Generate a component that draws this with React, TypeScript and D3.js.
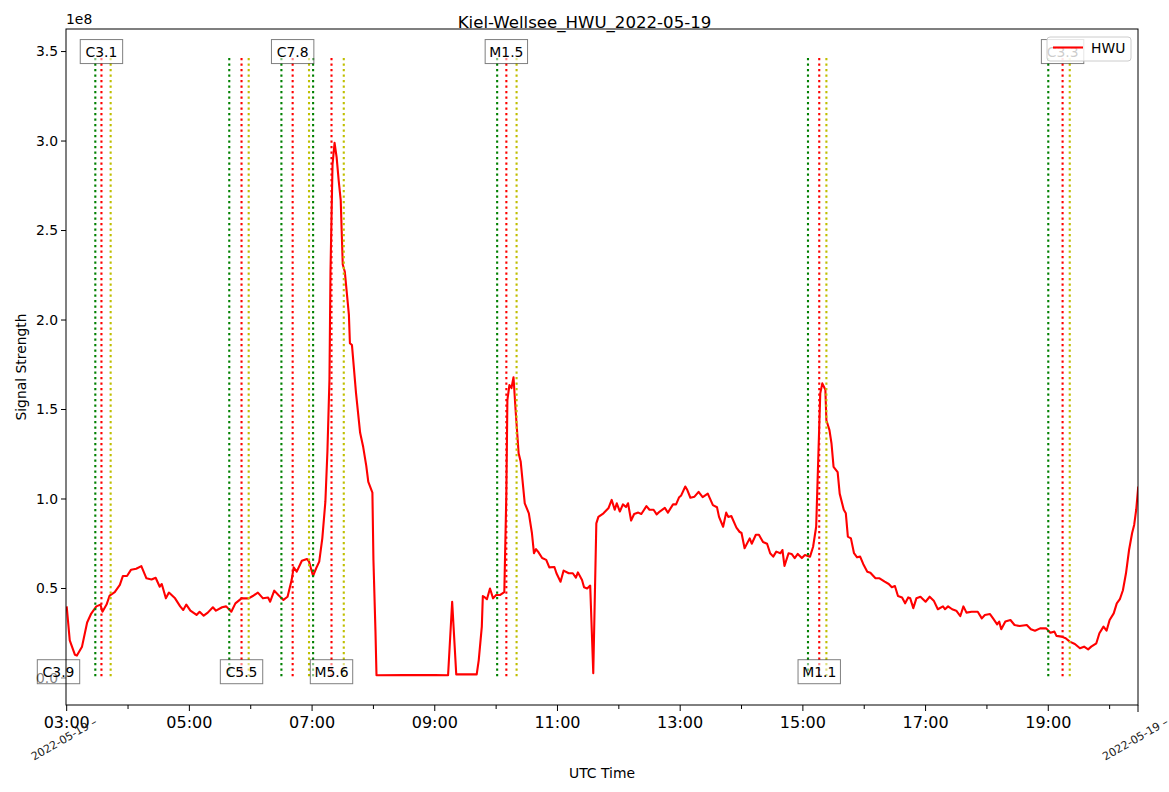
import React from 'react'
import * as d3 from 'd3'

// HWU signal (units of 1e8), sampled off the plot
const times = [
    '03:00', '03:03', '03:08', '03:10', '03:15', '03:20', '03:24', '03:29', '03:33', '03:35', '03:39', '03:42', '03:47', '03:52', '03:55', '03:59',
    '04:03', '04:08', '04:13', '04:18', '04:23', '04:27', '04:31', '04:33', '04:37', '04:40', '04:46', '04:51', '04:54', '04:57',
    '05:01', '05:07', '05:10', '05:14', '05:18', '05:23', '05:26', '05:32', '05:36', '05:41', '05:45', '05:51', '05:58',
    '06:02', '06:07', '06:12', '06:17', '06:19', '06:23', '06:27', '06:32', '06:36', '06:40', '06:42', '06:45', '06:50', '06:55', '06:57',
    '07:01', '07:04', '07:07', '07:10', '07:13', '07:15', '07:17', '07:18', '07:20', '07:22', '07:24', '07:26', '07:28', '07:30', '07:32', '07:36', '07:37', '07:39', '07:43', '07:47', '07:50', '07:53', '07:55', '07:59',
    '08:00', '08:02', '08:03', '08:30', '09:00', '09:13', '09:17', '09:21', '09:41', '09:43', '09:46', '09:47', '09:49', '09:51', '09:54', '09:57',
    '10:00', '10:04', '10:08', '10:10', '10:11', '10:13', '10:15', '10:17', '10:19', '10:22', '10:24', '10:28', '10:32', '10:35', '10:37', '10:39', '10:41', '10:45', '10:49', '10:52', '10:57', '10:59',
    '11:03', '11:06', '11:11', '11:15', '11:18', '11:20', '11:24', '11:26', '11:29', '11:32', '11:35', '11:38', '11:40', '11:45', '11:50', '11:53', '11:56', '11:58',
    '12:01', '12:04', '12:07', '12:09', '12:12', '12:15', '12:19', '12:22', '12:27', '12:30', '12:34', '12:37', '12:40', '12:45', '12:48', '12:53', '12:56', '12:59',
    '13:01', '13:05', '13:07', '13:10', '13:14', '13:18', '13:22', '13:27', '13:32', '13:36', '13:38', '13:42', '13:45', '13:47', '13:50', '13:55', '13:58',
    '14:00', '14:03', '14:08', '14:10', '14:14', '14:17', '14:21', '14:25', '14:28', '14:31', '14:34', '14:38', '14:40', '14:42', '14:46', '14:49', '14:52', '14:55', '14:59',
    '15:02', '15:07', '15:10', '15:13', '15:15', '15:17', '15:19', '15:22', '15:23', '15:26', '15:28', '15:30', '15:34', '15:36', '15:40', '15:42', '15:44', '15:47', '15:50', '15:53', '15:56', '15:59',
    '16:03', '16:06', '16:11', '16:15', '16:20', '16:24', '16:27', '16:30', '16:33', '16:37', '16:40', '16:43', '16:45', '16:48', '16:51', '16:55',
    '17:00', '17:04', '17:08', '17:12', '17:17', '17:19', '17:22', '17:26', '17:30', '17:34', '17:37', '17:40', '17:45', '17:51', '17:55', '17:58',
    '18:03', '18:06', '18:10', '18:12', '18:14', '18:18', '18:23', '18:27', '18:32', '18:39', '18:43', '18:47', '18:52', '18:58',
    '19:02', '19:06', '19:08', '19:13', '19:17', '19:21', '19:26', '19:31', '19:35', '19:39', '19:42', '19:47', '19:50', '19:54', '19:57',
    '20:00', '20:04', '20:07', '20:10', '20:13', '20:16', '20:19', '20:22', '20:24', '20:26', '20:28',
]
const signal = [
    0.40, 0.21, 0.13, 0.125, 0.175, 0.31, 0.36, 0.40, 0.41, 0.37, 0.41, 0.46, 0.48, 0.52, 0.57, 0.57,
    0.605, 0.61, 0.625, 0.557, 0.55, 0.56, 0.51, 0.525, 0.445, 0.477, 0.445, 0.40, 0.38, 0.41,
    0.376, 0.352, 0.37, 0.348, 0.365, 0.395, 0.376, 0.395, 0.40, 0.37, 0.417, 0.445, 0.445,
    0.458, 0.477, 0.445, 0.45, 0.426, 0.488, 0.464, 0.436, 0.454, 0.547, 0.618, 0.594, 0.655, 0.665, 0.65,
    0.57, 0.613, 0.65, 0.78, 0.985, 1.265, 1.67, 2.27, 2.87, 2.99, 2.91, 2.78, 2.67, 2.31, 2.27, 2.03, 1.87, 1.86, 1.59, 1.37, 1.29, 1.185, 1.095, 1.035,
    0.66, 0.26, 0.015, 0.016, 0.017, 0.015, 0.426, 0.02, 0.02, 0.10, 0.287, 0.458, 0.45, 0.44, 0.50, 0.445,
    0.464, 0.464, 0.48, 1.03, 1.553, 1.637, 1.62, 1.68, 1.50, 1.255, 1.21, 0.976, 0.92, 0.81, 0.697, 0.72, 0.706, 0.67, 0.66, 0.618, 0.62, 0.585,
    0.538, 0.60, 0.585, 0.585, 0.56, 0.59, 0.547, 0.507, 0.50, 0.516, 0.026, 0.864, 0.90, 0.92, 0.95, 0.995, 0.94, 0.976,
    0.93, 0.97, 0.955, 0.976, 0.88, 0.916, 0.924, 0.916, 0.96, 0.94, 0.94, 0.914, 0.93, 0.95, 0.924, 0.97, 0.97, 1.01,
    1.02, 1.07, 1.05, 1.007, 1.013, 1.04, 1.01, 1.03, 0.966, 0.954, 0.90, 0.845, 0.924, 0.90, 0.905, 0.84, 0.817,
    0.81, 0.725, 0.78, 0.75, 0.80, 0.80, 0.76, 0.75, 0.697, 0.678, 0.706, 0.697, 0.715, 0.626, 0.697, 0.693, 0.67, 0.693, 0.67,
    0.687, 0.678, 0.733, 0.845, 1.218, 1.59, 1.646, 1.61, 1.44, 1.385, 1.31, 1.18, 1.15, 1.03, 0.94, 0.92, 0.79, 0.78, 0.697, 0.674, 0.678, 0.637,
    0.594, 0.588, 0.557, 0.557, 0.538, 0.525, 0.507, 0.514, 0.458, 0.45, 0.417, 0.45, 0.445, 0.39, 0.445, 0.454,
    0.426, 0.454, 0.432, 0.384, 0.40, 0.384, 0.40, 0.384, 0.376, 0.346, 0.40, 0.365, 0.37, 0.37, 0.333, 0.352,
    0.357, 0.333, 0.30, 0.315, 0.272, 0.315, 0.324, 0.296, 0.29, 0.296, 0.272, 0.264, 0.277, 0.277,
    0.253, 0.259, 0.235, 0.231, 0.222, 0.203, 0.19, 0.166, 0.175, 0.16, 0.175, 0.194, 0.25, 0.287, 0.264,
    0.324, 0.361, 0.417, 0.44, 0.49, 0.585, 0.715, 0.81, 0.855, 0.94, 1.07,
]

// GOES flares: start / peak / end
const flareClass = ['C3.9', 'C3.1', 'C5.5', 'C7.8', 'M5.6', 'M1.5', 'M1.1', 'C3.3']
const flareStart = ['02:44', '03:28', '05:39', '06:30', '07:01', '10:01', '15:05', '19:00']
const flarePeak = ['02:52', '03:34', '05:51', '06:41', '07:19', '10:10', '15:16', '19:14']
const flareEnd = ['02:57', '03:43', '05:58', '06:57', '07:31', '10:20', '15:23', '19:21']
const labelAt = ['bottom', 'top', 'bottom', 'top', 'bottom', 'top', 'bottom', 'top']

const yTicks = [0, 0.5, 1.0, 1.5, 2.0, 2.5, 3.0, 3.5]
const xMajor = ['03:00', '05:00', '07:00', '09:00', '11:00', '13:00', '15:00', '17:00', '19:00']
const xMinor = ['04:00', '06:00', '08:00', '10:00', '12:00', '14:00', '16:00', '18:00', '20:00']
const xStart = '02:59:20'
const xEnd = '20:27:45'
const dateLabel = '2022-05-19 –'

const W = 1169
const H = 792
const FONT = 'DejaVu Sans, sans-serif'

const parseT = (t: string) => {
    const full = t.length === 5 ? t + ':00' : t
    return d3.timeParse('%Y-%m-%d %H:%M:%S')('2022-05-19 ' + full) as Date
}

export default function App() {
    const left = 66, right = 1138, top = 29, bottom = 705

    const x = d3.scaleTime().domain([parseT(xStart), parseT(xEnd)]).range([left, right])
    const y = d3.scaleLinear().domain([-0.151, 3.626]).range([bottom, top])

    const pts = times.map((t, i) => [parseT(t), signal[i]] as [Date, number])
    const line = d3.line<[Date, number]>().x(d => x(d[0])).y(d => y(d[1]))

    const boxText = (s: string) => s.length * 7.6

    return (
        <div>
            <style>{`body{margin:0}`}</style>
            <svg width={W} height={H} style={{ display: 'block', fontFamily: FONT }}>
                <rect width={W} height={H} fill="#fff" />
                <defs>
                    <clipPath id="plot">
                        <rect x={left} y={top} width={right - left} height={bottom - top} />
                    </clipPath>
                </defs>

                {/* y ticks */}
                {yTicks.map(v => (
                    <g key={v}>
                        <line x1={left - 5} x2={left} y1={y(v)} y2={y(v)} stroke="#000" />
                        <text x={left - 8} y={y(v)} dy="0.35em" textAnchor="end" fontSize={13.9}>{v.toFixed(1)}</text>
                    </g>
                ))}
                <text x={left} y={24} fontSize={13.9}>1e8</text>

                {/* x ticks */}
                {xMajor.map(t => (
                    <g key={t}>
                        <line x1={x(parseT(t))} x2={x(parseT(t))} y1={bottom} y2={bottom + 6} stroke="#000" />
                        <text x={x(parseT(t))} y={bottom + 23} textAnchor="middle" fontSize={16}>{t}</text>
                    </g>
                ))}
                {xMinor.map(t => (
                    <line key={t} x1={x(parseT(t))} x2={x(parseT(t))} y1={bottom} y2={bottom + 4} stroke="#000" />
                ))}
                <line x1={right} x2={right} y1={bottom} y2={bottom + 7} stroke="#000" />
                {[x(parseT('03:00')), right].map((px, i) => (
                    <text key={i} transform={`translate(${px + 31},${bottom + 19}) rotate(-30)`} textAnchor="end"
                        fontSize={11.1} fill="#222">{dateLabel}</text>
                ))}

                {/* signal */}
                <g clipPath="url(#plot)">
                    <path d={line(pts) || ''} fill="none" stroke="#ff0000" strokeWidth={2.1} strokeLinejoin="round" />
                    {flareClass.map((c, i) => (
                        <g key={c}>
                            {[[flareStart[i], '#008000'], [flarePeak[i], '#ff0000'], [flareEnd[i], '#bfbf00']].map(([t, col]) => (
                                <line key={t + col} x1={x(parseT(t))} x2={x(parseT(t))} y1={y(0.01)} y2={y(3.475)}
                                    stroke={col} strokeWidth={2.1} strokeDasharray="2.1,3.4" />
                            ))}
                        </g>
                    ))}
                </g>

                {/* flare labels */}
                {flareClass.map((c, i) => {
                    const cx = x(parseT(flarePeak[i]))
                    const cy = labelAt[i] === 'top' ? y(3.5) : y(0.035)
                    const w = boxText(c) + 12
                    return (
                        <g key={c}>
                            <rect x={cx - w / 2} y={cy - 12} width={w} height={24} fill="#fff" fillOpacity={0.5}
                                stroke="#000" strokeOpacity={0.5} />
                            <text x={cx} y={cy} dy="0.36em" textAnchor="middle" fontSize={13.9}>{c}</text>
                        </g>
                    )
                })}

                {/* frame */}
                <rect x={left} y={top} width={right - left} height={bottom - top} fill="none" stroke="#000" />

                {/* legend */}
                <rect x={1047} y={37} width={84} height={24} rx={3} fill="#fff" fillOpacity={0.8} stroke="#ccc" />
                <line x1={1053} x2={1083} y1={47.5} y2={47.5} stroke="#ff0000" strokeWidth={2.1} />
                <text x={1091} y={47.5} dy="0.36em" fontSize={13.9}>HWU</text>

                {/* titles */}
                <text x={W / 2} y={28} textAnchor="middle" fontSize={16.6}>Kiel-Wellsee_HWU_2022-05-19</text>
                <text x={(left + right) / 2} y={778} textAnchor="middle" fontSize={13.9}>UTC Time</text>
                <text transform={`translate(26,${(top + bottom) / 2}) rotate(-90)`} textAnchor="middle" fontSize={13.9}>Signal Strength</text>
            </svg>
        </div>
    )
}
